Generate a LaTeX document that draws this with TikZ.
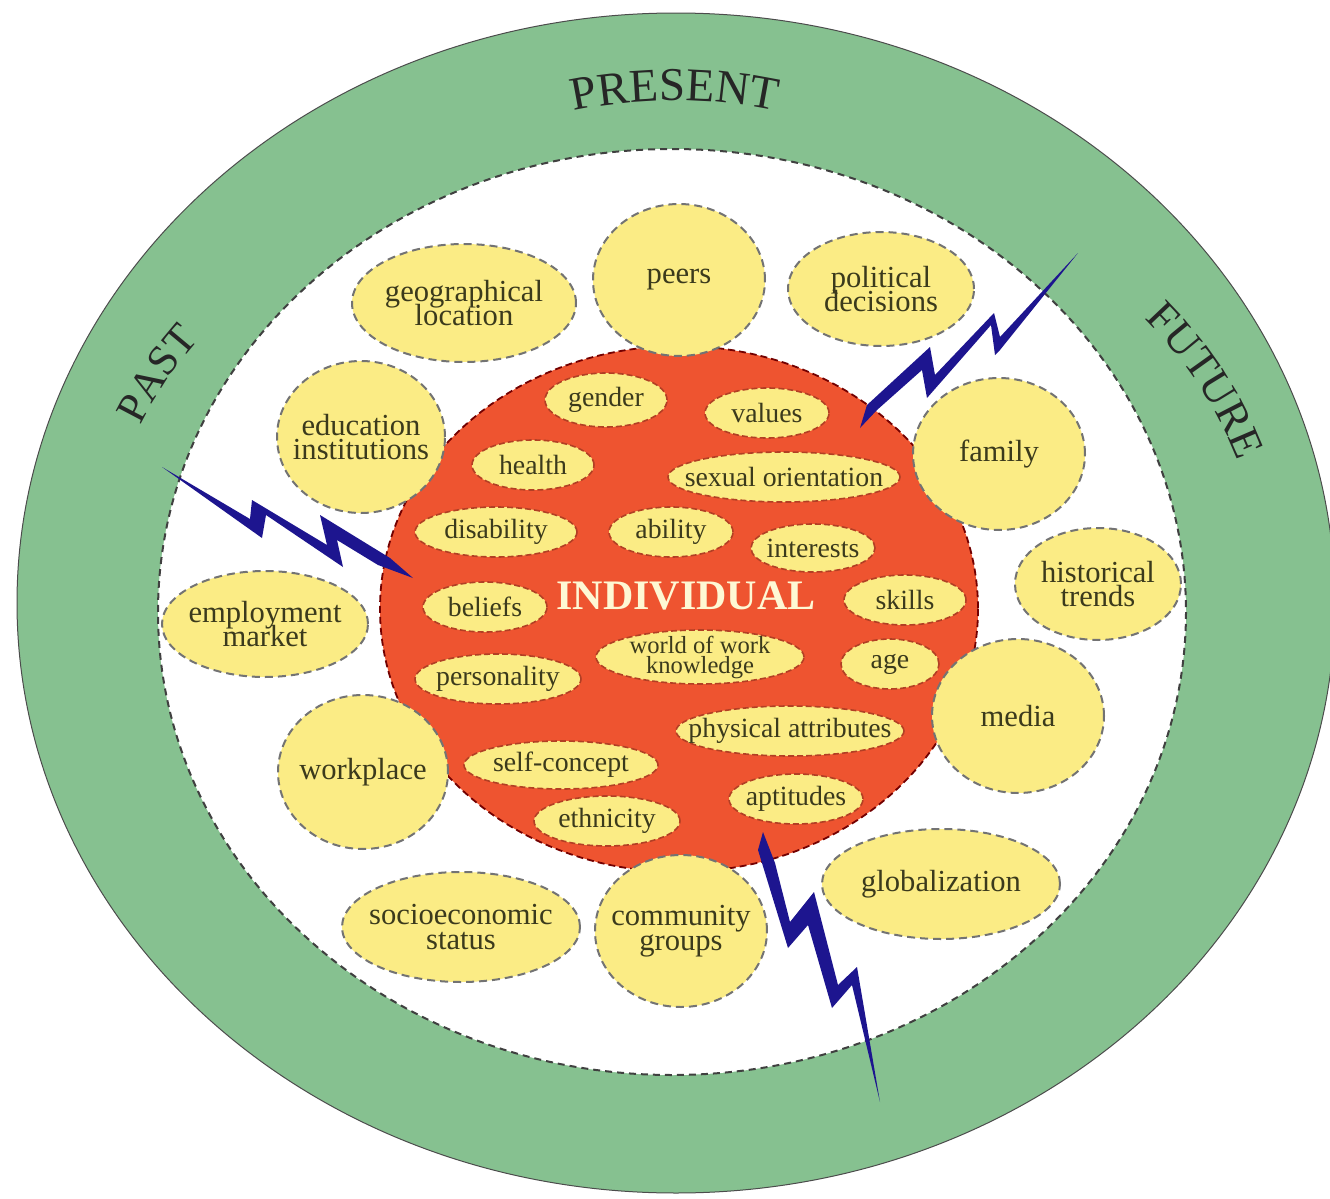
\documentclass[tikz,border=0pt]{standalone}
\usepackage{fontspec}
\setmainfont{Liberation Serif}
\usetikzlibrary{shapes.geometric,decorations.text}
\definecolor{ringgreen}{HTML}{86C190}
\definecolor{yel}{HTML}{FBEC85}
\definecolor{redcore}{HTML}{EE5430}
\definecolor{boltblue}{HTML}{1D158F}
\definecolor{ink}{HTML}{3B3A1C}
\normallineskiplimit=-50pt
\tikzset{
  x=0.5pt,y=-0.5pt,
  outerblob/.style={ellipse,draw=black!55,fill=yel,line width=1pt,dash pattern=on 4pt off 2.5pt,inner xsep=-25pt,inner ysep=-10pt,align=center,text=ink,font=\fontsize{15.3}{12.3}\selectfont},
  innerblob/.style={ellipse,draw=redcore!75!black,fill=yel,line width=0.8pt,dash pattern=on 3pt off 1.5pt,inner xsep=-25pt,inner ysep=-10pt,align=center,text=ink,font=\fontsize{13.9}{11}\selectfont},
  smallblob/.style={innerblob,font=\fontsize{12.3}{10}\selectfont},
}
\newcommand{\blob}[6]{\node[#1,minimum width=#4*0.5pt,minimum height=#5*0.5pt] (#2) at (#3) {#6};}
\begin{document}
\begin{tikzpicture}
\lineskiplimit=-50pt\relax
\useasboundingbox (0,0) rectangle (1330,1199);
\fill[white] (0,0) rectangle (1330,1199);
\path[draw=black!70,line width=0.5pt,fill=ringgreen] (676,603) ellipse [x radius=659,y radius=590];
\path[fill=white,draw=black!75,line width=1pt,dash pattern=on 3.5pt off 2.5pt] (672,612) ellipse [x radius=514,y radius=463];
\path[fill=redcore,draw=red!45!black,line width=0.9pt,dash pattern=on 3.5pt off 2pt] (679,609) ellipse [x radius=299,y radius=263];
% ring labels
\path[decorate,decoration={text along path,text align=center,text={|\fontsize{23.5}{23}\selectfont\color{black!85}|PRESENT}}]
  (520,126) .. controls (620,92) and (730,92) .. (830,126);
\path[decorate,decoration={text along path,text align=center,text={|\fontsize{21.5}{23}\selectfont\color{black!85}|PAST}}]
  (130,450) .. controls (147,405) and (177,360) .. (217,320);
\path[decorate,decoration={text along path,text align=center,text={|\fontsize{22}{23}\selectfont\color{black!85}|FUTURE}}]
  (1130,305) .. controls (1175,345) and (1220,405) .. (1245,480);
% outer factors
\blob{outerblob}{geo}{464,303}{224}{118}{geographical\\location}
\blob{outerblob}{peers}{679,280}{172}{152}{peers}
\blob{outerblob}{pol}{881,289}{186}{114}{political\\decisions}
\blob{outerblob}{edu}{361,437}{168}{152}{education\\institutions}
\blob{outerblob}{family}{999,454}{172}{152}{family}
\blob{outerblob}{hist}{1098,584}{166}{112}{historical\\trends}
\blob{outerblob}{emp}{265,624}{206}{106}{employment\\market}
\blob{outerblob}{media}{1018,716}{172}{154}{media}
\blob{outerblob}{work}{363,772}{170}{154}{workplace}
\blob{outerblob}{glob}{941,884}{238}{110}{globalization}
\blob{outerblob}{socio}{461,927}{238}{110}{socioeconomic\\status}
\blob{outerblob}{comm}{681,931}{172}{152}{community\\groups}
% inner factors
\blob{innerblob}{gender}{606,400}{122}{54}{gender}
\blob{innerblob}{values}{767,413}{124}{50}{values}
\blob{innerblob}{health}{533,465}{122}{50}{health}
\blob{innerblob}{sexual}{784,477}{232}{50}{sexual orientation}
\blob{innerblob}{disab}{496,532}{162}{50}{disability}
\blob{innerblob}{ability}{671,532}{124}{50}{ability}
\blob{innerblob}{inter}{813,548}{124}{48}{interests}
\blob{innerblob}{beliefs}{485,607}{124}{50}{beliefs}
\blob{innerblob}{skills}{905,600}{122}{50}{skills}
\blob{smallblob}{wow}{700,657}{208}{54}{world of work\\knowledge}
\blob{innerblob}{age}{890,664}{98}{50}{age}
\blob{innerblob}{pers}{498,679}{166}{50}{personality}
\blob{innerblob}{phys}{790,731}{228}{50}{physical attributes}
\blob{innerblob}{self}{561,765}{194}{48}{self-concept}
\blob{innerblob}{apt}{796,799}{134}{50}{aptitudes}
\blob{innerblob}{eth}{607,821}{146}{50}{ethnicity}
\node[text=yel!35!white,font=\bfseries\fontsize{21}{22}\selectfont,inner sep=0pt] (indiv) at (686,596) {INDIVIDUAL};
% lightning bolts
\fill[boltblue] (860,428) -- (867,405) -- (930,347) -- (935,375) -- (994,313) -- (1000,337) -- (1078,253) -- (1000,350) -- (995,355) -- (991,325) -- (927,398) -- (922,370) -- (877,410) -- cycle;
\fill[boltblue] (162,467) -- (250,519) -- (252,500) -- (327,545) -- (320,515) -- (390,558) -- (413,578) -- (378,565) -- (337,540) -- (343,567) -- (266,515) -- (262,538) -- cycle;
\fill[boltblue] (763,832) -- (758,850) -- (788,948) -- (808,925) -- (832,1008) -- (852,985) -- (880,1102) -- (857,967) -- (838,985) -- (814,892) -- (790,922) -- (775,863) -- cycle;
\end{tikzpicture}
\end{document}
